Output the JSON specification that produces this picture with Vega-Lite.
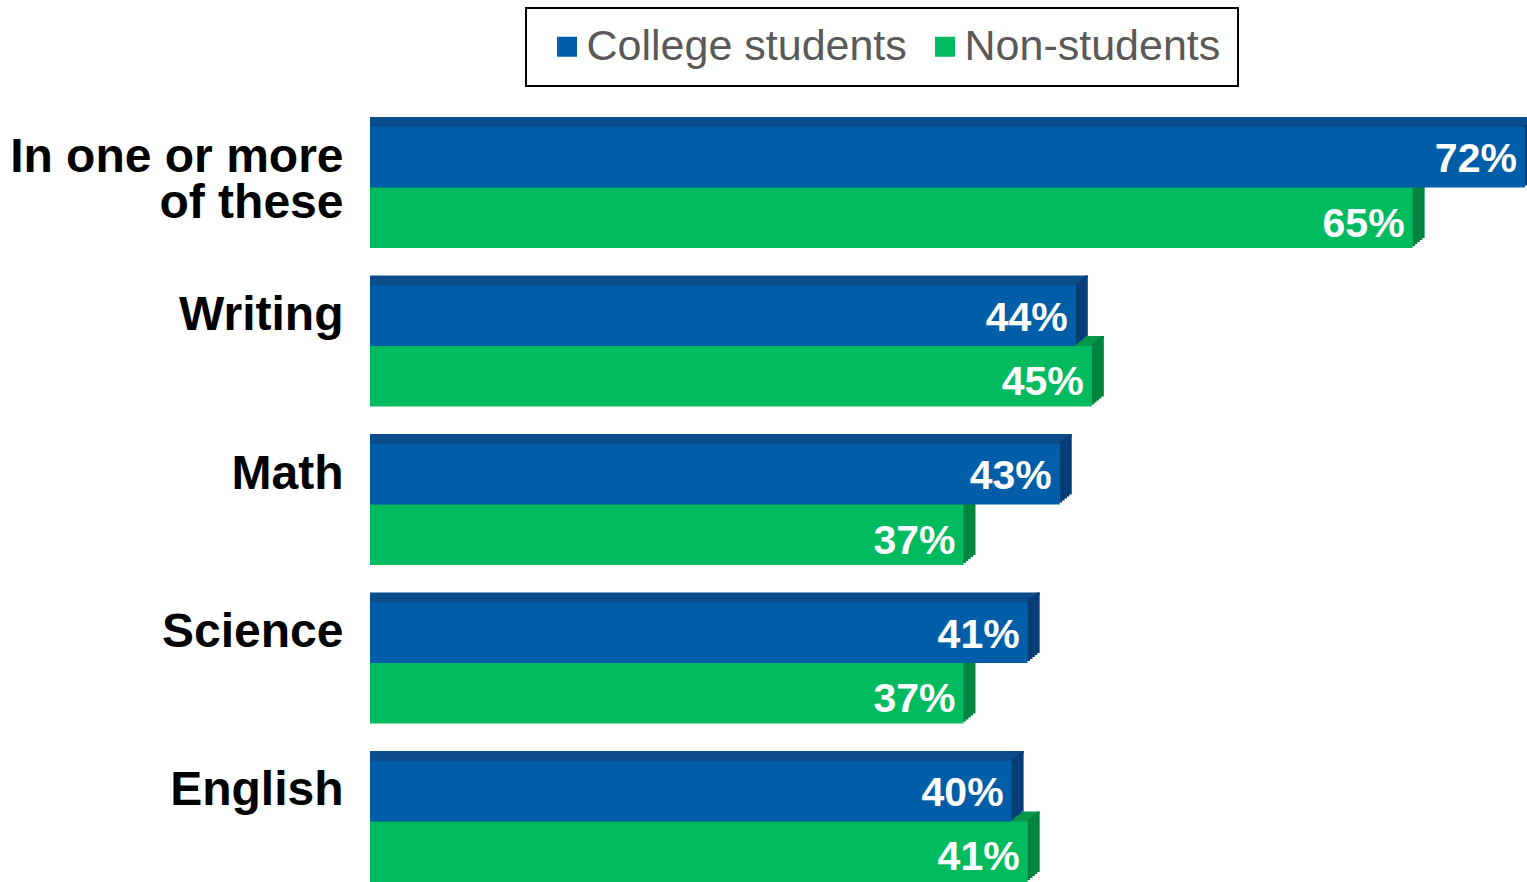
{
  "$schema": "https://vega.github.io/schema/vega-lite/v6.json",
  "width": 1157,
  "height": 755,
  "autosize": {"type": "none"},
  "padding": {"left": 370, "top": 127, "right": 0, "bottom": 0},
  "background": "white",
  "config": {
    "view": {"stroke": null},
    "font": "Liberation Sans",
    "legend": {"strokeWidth": 2}
  },
  "data": {
    "values": [
      {"category": "In one or more of these", "series": "College students", "value": 72},
      {"category": "In one or more of these", "series": "Non-students", "value": 65},
      {"category": "Writing", "series": "College students", "value": 44},
      {"category": "Writing", "series": "Non-students", "value": 45},
      {"category": "Math", "series": "College students", "value": 43},
      {"category": "Math", "series": "Non-students", "value": 37},
      {"category": "Science", "series": "College students", "value": 41},
      {"category": "Science", "series": "Non-students", "value": 37},
      {"category": "English", "series": "College students", "value": 40},
      {"category": "English", "series": "Non-students", "value": 41}
    ]
  },
  "encoding": {
    "y": {
      "field": "category",
      "type": "nominal",
      "sort": null,
      "scale": {"paddingInner": 0.23659, "paddingOuter": 0},
      "axis": {
        "title": null,
        "domain": false,
        "ticks": false,
        "labelFontSize": 48,
        "labelFontWeight": "bold",
        "labelColor": "black",
        "labelFont": "Liberation Sans",
        "labelPadding": 27,
        "labelLimit": 400,
        "labelAlign": "right",
        "labelBaseline": "alphabetic",
        "labelOffset": -16,
        "labelLineHeight": 46,
        "labelExpr": "datum.value == 'In one or more of these' ? ['In one or more', 'of these'] : datum.value"
      }
    },
    "x": {
      "field": "value",
      "type": "quantitative",
      "stack": null,
      "scale": {"domain": [0, 72.13], "nice": false, "zero": true},
      "axis": null
    }
  },
  "layer": [
    {
      "transform": [{"filter": "datum.series == 'Non-students'"}],
      "layer": [
        {"mark": {"type": "bar", "color": "#07984A", "height": 2.6, "yOffset": -0.7, "xOffset": 2.4, "x2Offset": 2.4}},
        {"mark": {"type": "bar", "color": "#07984A", "height": 2.6, "yOffset": -2.7, "xOffset": 4.8, "x2Offset": 4.8}},
        {"mark": {"type": "bar", "color": "#07984A", "height": 2.6, "yOffset": -4.7, "xOffset": 7.2, "x2Offset": 7.2}},
        {"mark": {"type": "bar", "color": "#07984A", "height": 2.6, "yOffset": -6.7, "xOffset": 9.6, "x2Offset": 9.6}},
        {"mark": {"type": "bar", "color": "#07984A", "height": 2.6, "yOffset": -8.7, "xOffset": 12, "x2Offset": 12}},
        {"mark": {"type": "bar", "color": "#00843D", "height": 60.5, "yOffset": 28.25, "xOffset": -0.6, "x2Offset": 2.4}, "encoding": {"x2": {"field": "value"}}},
        {"mark": {"type": "bar", "color": "#00843D", "height": 60.5, "yOffset": 26.25, "xOffset": 1.8, "x2Offset": 4.8}, "encoding": {"x2": {"field": "value"}}},
        {"mark": {"type": "bar", "color": "#00843D", "height": 60.5, "yOffset": 24.25, "xOffset": 4.2, "x2Offset": 7.2}, "encoding": {"x2": {"field": "value"}}},
        {"mark": {"type": "bar", "color": "#00843D", "height": 60.5, "yOffset": 22.25, "xOffset": 6.6, "x2Offset": 9.6}, "encoding": {"x2": {"field": "value"}}},
        {"mark": {"type": "bar", "color": "#00843D", "height": 60.5, "yOffset": 20.25, "xOffset": 9.0, "x2Offset": 12}, "encoding": {"x2": {"field": "value"}}},
        {
          "mark": {"type": "bar", "height": 60.5, "yOffset": 30.25},
          "encoding": {
            "color": {
              "field": "series",
              "type": "nominal",
              "scale": {"domain": ["College students", "Non-students"], "range": ["#005EA8", "#00BA5F"]},
              "legend": {
                "title": null,
                "orient": "none",
                "legendX": 156,
                "legendY": -119,
                "direction": "horizontal",
                "symbolType": "square",
                "symbolSize": 400,
                "symbolStrokeWidth": 0,
                "symbolOpacity": 1,
                "symbolOffset": 2.5,
                "labelFontSize": 43,
                "labelColor": "#595959",
                "labelFont": "Liberation Sans",
                "labelOffset": -2,
                "labelLimit": 600,
                "columnPadding": 14,
                "padding": 17,
                "strokeColor": "black"
              }
            }
          }
        },
        {
          "mark": {"type": "text", "color": "white", "font": "Liberation Sans", "fontWeight": "bold", "fontSize": 41, "align": "right", "baseline": "alphabetic", "dx": -8, "yOffset": 49, "text": {"expr": "datum.value + '%'"}}
        }
      ]
    },
    {
      "transform": [{"filter": "datum.series == 'College students'"}],
      "layer": [
        {"mark": {"type": "bar", "color": "#0B4D8B", "height": 2.6, "yOffset": -61.2, "xOffset": 2.4, "x2Offset": 2.4}},
        {"mark": {"type": "bar", "color": "#0B4D8B", "height": 2.6, "yOffset": -63.2, "xOffset": 4.8, "x2Offset": 4.8}},
        {"mark": {"type": "bar", "color": "#0B4D8B", "height": 2.6, "yOffset": -65.2, "xOffset": 7.2, "x2Offset": 7.2}},
        {"mark": {"type": "bar", "color": "#0B4D8B", "height": 2.6, "yOffset": -67.2, "xOffset": 9.6, "x2Offset": 9.6}},
        {"mark": {"type": "bar", "color": "#0B4D8B", "height": 2.6, "yOffset": -69.2, "xOffset": 12, "x2Offset": 12}},
        {"mark": {"type": "bar", "color": "#063D77", "height": 60.5, "yOffset": -32.25, "xOffset": -0.6, "x2Offset": 2.4}, "encoding": {"x2": {"field": "value"}}},
        {"mark": {"type": "bar", "color": "#063D77", "height": 60.5, "yOffset": -34.25, "xOffset": 1.8, "x2Offset": 4.8}, "encoding": {"x2": {"field": "value"}}},
        {"mark": {"type": "bar", "color": "#063D77", "height": 60.5, "yOffset": -36.25, "xOffset": 4.2, "x2Offset": 7.2}, "encoding": {"x2": {"field": "value"}}},
        {"mark": {"type": "bar", "color": "#063D77", "height": 60.5, "yOffset": -38.25, "xOffset": 6.6, "x2Offset": 9.6}, "encoding": {"x2": {"field": "value"}}},
        {"mark": {"type": "bar", "color": "#063D77", "height": 60.5, "yOffset": -40.25, "xOffset": 9.0, "x2Offset": 12}, "encoding": {"x2": {"field": "value"}}},
        {
          "mark": {"type": "bar", "height": 60.5, "yOffset": -30.25},
          "encoding": {
            "color": {
              "field": "series",
              "type": "nominal",
              "scale": {"domain": ["College students", "Non-students"], "range": ["#005EA8", "#00BA5F"]}
            }
          }
        },
        {
          "mark": {"type": "text", "color": "white", "font": "Liberation Sans", "fontWeight": "bold", "fontSize": 41, "align": "right", "baseline": "alphabetic", "dx": -8, "yOffset": -15.25, "text": {"expr": "datum.value + '%'"}}
        }
      ]
    }
  ]
}
